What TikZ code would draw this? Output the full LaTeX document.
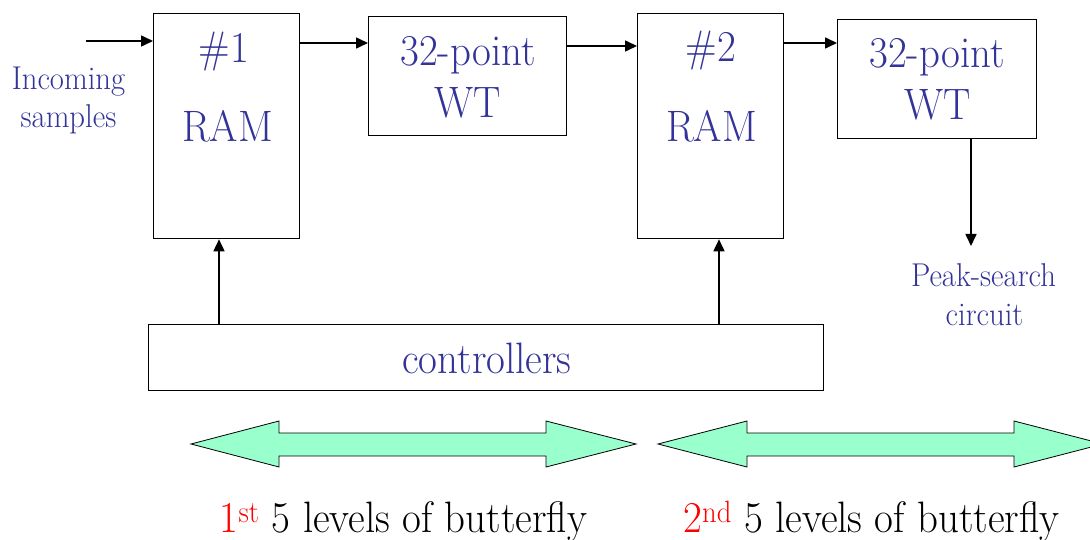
\documentclass[tikz,border=0pt]{standalone}
\usepackage{fontspec}
\usepackage{graphicx}
\newcommand{\sq}[1]{\scalebox{0.93}[1]{#1}}
\usetikzlibrary{arrows.meta}
\definecolor{txtblue}{RGB}{51,51,153}
\definecolor{arrgreen}{RGB}{153,255,204}
\begin{document}
\begin{tikzpicture}[x=1pt,y=-1pt,
  blk/.style={draw=black, line width=1.3pt, anchor=north west, inner sep=0pt},
  big/.style={text=txtblue, font=\fontsize{44}{50}\selectfont, anchor=base, inner sep=0pt},
  small/.style={text=txtblue, font=\fontsize{33}{38}\selectfont, anchor=base, inner sep=0pt},
  lbl/.style={text=black, font=\fontsize{44}{50}\selectfont, anchor=base, inner sep=0pt},
  arr/.style={line width=1.6pt, -{Triangle[length=12pt,width=11pt]}},
  dbl/.style={draw=black, line width=0.8pt, fill=arrgreen}]
\clip (0,0) rectangle (1090,540);
\fill[white] (0,0) rectangle (1090,540);
% boxes
\node[blk, minimum width=146pt, minimum height=225pt] (ram1) at (153,13) {};
\node[blk, minimum width=198pt, minimum height=119pt] (wt1) at (368,16) {};
\node[blk, minimum width=146pt, minimum height=225pt] (ram2) at (637,13) {};
\node[blk, minimum width=199pt, minimum height=119pt] (wt2) at (837,19) {};
\node[blk, minimum width=675pt, minimum height=66pt] (ctrl) at (148,324) {};
% texts
\node[small] (inc1) at (68.5,90) {\sq{Incoming}};
\node[small] (inc2) at (68.5,128) {\sq{samples}};
\node[big] (n1) at (224,63) {\sq{\#1}};
\node[big] (ramt1) at (227.5,142) {\sq{RAM}};
\node[big] (wta1) at (468,66) {\sq{32-point}};
\node[big] (wtb1) at (468,118) {\sq{WT}};
\node[big] (n2) at (711,62) {\sq{\#2}};
\node[big] (ramt2) at (711.5,142) {\sq{RAM}};
\node[big] (wta2) at (937,68) {\sq{32-point}};
\node[big] (wtb2) at (938,120) {\sq{WT}};
\node[small] (pk1) at (983.5,287) {\sq{Peak-search}};
\node[small] (pk2) at (984.5,325) {\sq{circuit}};
\node[big] (ctrlt) at (487,373) {\sq{controllers}};
\node[lbl] (b1) at (403.5,532) {\sq{\textcolor{red}{1\textsuperscript{st}} 5 levels of butterfly}};
\node[lbl] (b2) at (871.5,532) {\sq{\textcolor{red}{2\textsuperscript{nd}} 5 levels of butterfly}};
% connectors
\coordinate (inS) at (86,41);
\coordinate (pkE) at (971,246);
\draw[arr] (inS) -- (ram1.west |- inS);
\draw[arr] (ram1.east |- 0,43) -- (wt1.west |- 0,43);
\draw[arr] (wt1.east |- 0,46) -- (ram2.west |- 0,46);
\draw[arr] (ram2.east |- 0,43) -- (wt2.west |- 0,43);
\draw[arr] (wt2.south -| pkE) -- (pkE);
\draw[arr] (ctrl.north -| 219,0) -- (ram1.south -| 219,0);
\draw[arr] (ctrl.north -| 719,0) -- (ram2.south -| 719,0);
% double arrows
\draw[dbl] (191,444) -- (279,421) -- (279,433) -- (546,433) -- (546,421) -- (636,444)
  -- (546,467) -- (546,456) -- (279,456) -- (279,467) -- cycle;
\draw[dbl] (658,444) -- (747,421) -- (747,433) -- (1014,433) -- (1014,421) -- (1103,444)
  -- (1014,467) -- (1014,456) -- (747,456) -- (747,467) -- cycle;
\end{tikzpicture}
\end{document}
